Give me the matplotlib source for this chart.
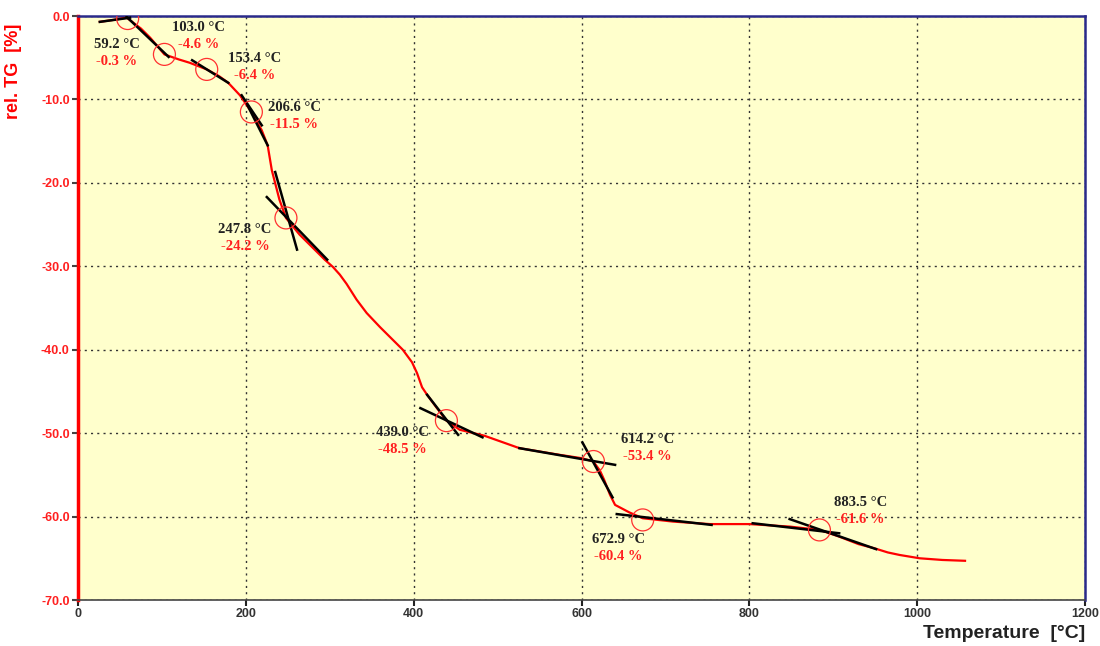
import matplotlib
matplotlib.use("Agg")
from matplotlib import pyplot as plt

# TG curve
temp = [26, 40, 58, 75, 86, 103, 120, 133, 153.4, 168, 179, 193, 206.6, 219, 226,
        231, 240, 247.8, 264, 280, 294, 304, 312, 320, 332, 344, 360, 375, 387, 398, 404,
        410, 416, 427, 439, 455, 484, 526, 574, 600, 614.2, 622, 627, 634, 640, 657,
        672.9, 709, 753, 800, 848, 883.5, 907, 930, 949, 965, 979, 1003, 1030, 1057]
tg = [-0.7, -0.5, -0.2, -1.5, -2.6, -4.6, -5.2, -5.6, -6.4, -7.2, -8.0, -9.5, -11.5, -13.7, -15.5,
      -18.5, -22.0, -24.2, -26.2, -27.8, -29.2, -30.1, -31.0, -32.1, -34.0, -35.6, -37.3, -38.8, -40.0, -41.5, -42.8,
      -44.5, -45.4, -46.9, -48.5, -49.6, -50.3, -51.8, -52.6, -53.0, -53.4, -54.5, -55.6, -57.4, -58.6, -59.5,
      -60.2, -60.6, -60.9, -60.9, -61.2, -61.6, -62.4, -63.3, -63.8, -64.3, -64.6, -65.0, -65.2, -65.3]

# evaluation points (onset / step temperatures)
pt_temp = [59.2, 103.0, 153.4, 206.6, 247.8, 439.0, 614.2, 672.9, 883.5]
pt_tg = [-0.3, -4.6, -6.4, -11.5, -24.2, -48.5, -53.4, -60.4, -61.6]

# tangent segments: (T1, TG1, T2, TG2)
tangents = [
    (26, -0.7, 62, -0.2),
    (58, -0.1, 108, -4.9),
    (136, -5.3, 179, -8.0),
    (195, -9.5, 219, -13.1),
    (202, -10.7, 226, -15.5),
    (235, -18.7, 261, -28.0),
    (225, -21.7, 297, -29.2),
    (416, -45.4, 453, -50.2),
    (408, -47.0, 482, -50.5),
    (526, -51.8, 640, -53.8),
    (601, -51.1, 637, -57.7),
    (642, -59.7, 755, -61.0),
    (804, -60.8, 907, -62.0),
    (848, -60.3, 951, -63.9),
]

# label placement, offset of label centre from point in pixels
lab_dx = [-11, 34, 48, 43, -41, -44, 54, -24, 41]
lab_dy = [-26, 27, 11, 4, -12, -12, 22, -20, 27]

fig = plt.figure(figsize=(11, 6.46), dpi=100)
ax = fig.add_axes([0.0709, 0.0712, 0.9155, 0.904])
ax.set_facecolor("#ffffcc")

ax.plot(temp, tg, color="#ff0000", lw=1.6, zorder=3)
for t1, g1, t2, g2 in tangents:
    ax.plot([t1, t2], [g1, g2], color="black", lw=1.8, zorder=4)
ax.scatter(pt_temp, pt_tg, s=250, facecolors="none", edgecolors="#ff3030", lw=0.9, zorder=5)

for t, g, dx, dy in zip(pt_temp, pt_tg, lab_dx, lab_dy):
    ax.annotate("%.1f °C" % t, (t, g), xytext=(dx, dy), textcoords="offset pixels",
                ha="center", va="center", fontsize=10.5, fontweight="bold",
                family="Liberation Serif", color="#222222", zorder=6)
    ax.annotate("%.1f %%" % g, (t, g), xytext=(dx, dy - 17), textcoords="offset pixels",
                ha="center", va="center", fontsize=10.5, fontweight="bold",
                family="Liberation Serif", color="#ff2020", zorder=6)

ax.set_xlim(0, 1200)
ax.set_ylim(-70, 0)
ax.set_xticks(range(0, 1201, 200))
ax.set_yticks(range(-70, 1, 10))
ax.set_yticklabels(["%.1f" % v for v in range(-70, 1, 10)])
ax.grid(True, color="#333333", linestyle=(0, (1.5, 3)), lw=1.0)

for lab in ax.get_yticklabels():
    lab.set_color("#ff2020")
    lab.set_fontweight("bold")
    lab.set_fontsize(9)
    lab.set_family("Liberation Sans")
for lab in ax.get_xticklabels():
    lab.set_color("#333333")
    lab.set_fontweight("bold")
    lab.set_fontsize(9)
    lab.set_family("Liberation Sans")
ax.tick_params(axis="y", length=4, width=1.5, color="#444444", pad=2)
ax.tick_params(axis="x", length=4, width=1.5, color="#222222", pad=2)

ax.spines["left"].set_color("#ff0000")
ax.spines["left"].set_linewidth(2.5)
ax.spines["top"].set_color("#2a2a8a")
ax.spines["right"].set_color("#2a2a8a")
ax.spines["top"].set_linewidth(1.8)
ax.spines["right"].set_linewidth(1.8)
ax.spines["bottom"].set_color("#444444")
ax.spines["bottom"].set_linewidth(1.2)

ax.set_ylabel("rel. TG  [%]", color="#ff0000", fontsize=13, fontweight="bold",
              family="Liberation Sans")
ax.yaxis.set_label_coords(-0.056, 0.905)
ax.set_xlabel("Temperature  [°C]", color="#222222", fontsize=14, fontweight="bold",
              family="Liberation Sans", ha="right")
ax.xaxis.set_label_coords(1.0, -0.058)
ax.xaxis.label.set_va("center")

fig.savefig("out.png", dpi=100)
